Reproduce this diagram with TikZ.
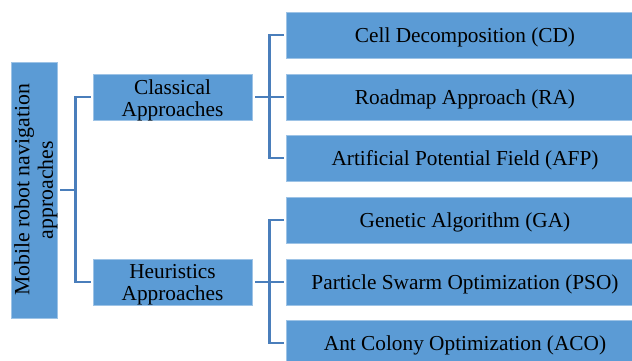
\documentclass[tikz,border=0pt]{standalone}
\usepackage{fontspec}
\setmainfont{Liberation Serif}
\begin{document}
\begin{tikzpicture}[x=1pt,y=-1pt,
  box/.style={draw=boxedge,line width=0.8pt,fill=boxfill,inner sep=0pt,align=center,
    font=\fontsize{21.3}{22}\selectfont,text=black},
  leaf/.style={box,minimum width=358pt,minimum height=46pt,text height=15pt,text depth=1pt},
  mid/.style={box,minimum width=159pt,minimum height=46pt},
  lbl/.style={inner sep=0pt,align=center,font=\fontsize{21.3}{22}\selectfont,text=black},
  link/.style={draw=linecol,line width=2.4pt,shorten <=3pt,shorten >=2pt}]
\definecolor{boxfill}{HTML}{5B9BD5}
\definecolor{boxedge}{HTML}{9DC3E6}
\definecolor{linecol}{HTML}{4A7EBB}
\clip (0,0) rectangle (632,360);
\fill[white] (0,0) rectangle (632,360);
\node[box,minimum width=46pt,minimum height=256pt] (root) at (34,190) {};
\node[rotate=90,lbl,font=\fontsize{21.8}{23.5}\selectfont] (roottext) at (36,190) {Mobile robot navigation\\approaches};
\node[mid] (cls) at (172.5,97) {};
\node[lbl] (clstext) at (172.5,100) {Classical\\Approaches};
\node[mid] (heu) at (172.5,282) {};
\node[lbl] (heutext) at (172.5,285) {Heuristics\\Approaches};
\node[leaf] (cd) at (465,35) {Cell Decomposition (CD)};
\node[leaf] (ra) at (465,97) {Roadmap Approach (RA)};
\node[leaf] (afp) at (465,158) {Artificial Potential Field (AFP)};
\node[leaf] (ga) at (465,220) {Genetic Algorithm (GA)};
\node[leaf] (pso) at (465,282) {Particle Swarm Optimization (PSO)};
\node[leaf] (aco) at (465,343) {Ant Colony Optimization (ACO)};
\draw[link] (root.east) -- ++(18,0) |- (cls.west);
\draw[link] (root.east) -- ++(18,0) |- (heu.west);
\foreach \t in {cd,ra,afp} \draw[link] (cls.east) -- ++(17,0) |- (\t.west);
\foreach \t in {ga,pso,aco} \draw[link] (heu.east) -- ++(17,0) |- (\t.west);
\end{tikzpicture}
\end{document}
